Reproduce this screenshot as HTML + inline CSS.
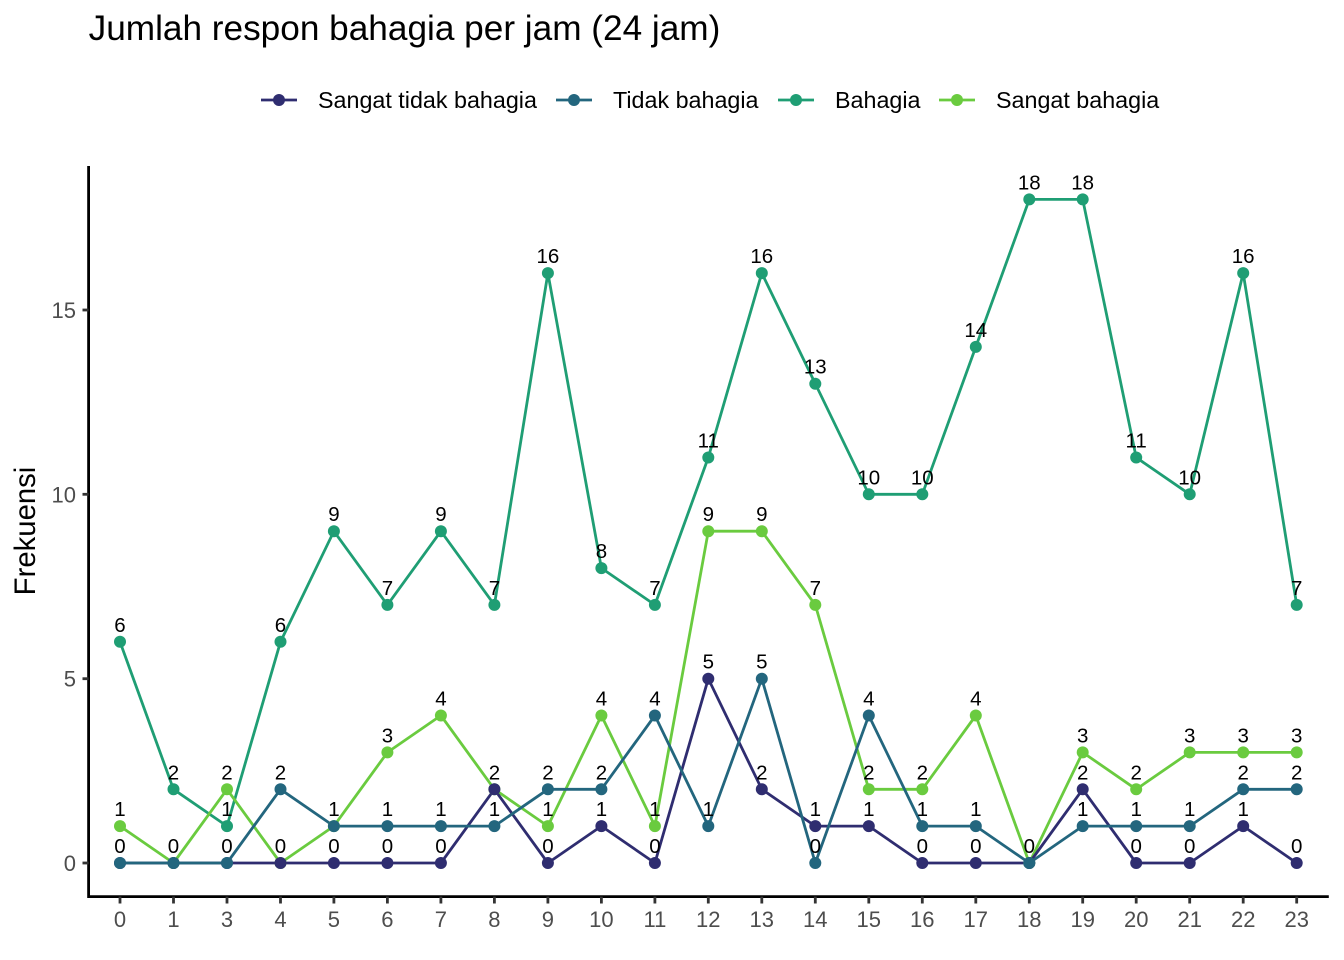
<!DOCTYPE html>
<html>
<head>
<meta charset="utf-8">
<style>
  html, body { margin: 0; padding: 0; background: #ffffff; }
  svg { display: block; }
  text { font-family: "Liberation Sans", Arial, sans-serif; }
</style>
</head>
<body>
<svg width="1344" height="960" viewBox="0 0 1344 960" xmlns="http://www.w3.org/2000/svg">
  <rect x="0" y="0" width="1344" height="960" fill="#ffffff"/>

  <!-- Title -->
  <text x="88.6" y="40" font-size="35.2" fill="#000000">Jumlah respon bahagia per jam (24 jam)</text>

  <!-- Legend -->
  <g stroke-width="2.8">
    <line x1="261" y1="100" x2="297" y2="100" stroke="#2f2d70"/>
    <circle cx="279" cy="100" r="6" fill="#2f2d70" stroke="none"/>
    <line x1="556" y1="100" x2="592" y2="100" stroke="#23667e"/>
    <circle cx="574" cy="100" r="6" fill="#23667e" stroke="none"/>
    <line x1="778" y1="100" x2="814" y2="100" stroke="#1f9e74"/>
    <circle cx="796" cy="100" r="6" fill="#1f9e74" stroke="none"/>
    <line x1="939" y1="100" x2="975" y2="100" stroke="#6acb3f"/>
    <circle cx="957" cy="100" r="6" fill="#6acb3f" stroke="none"/>
  </g>
  <g font-size="23.3" fill="#000000">
    <text x="318" y="108">Sangat tidak bahagia</text>
    <text x="613" y="108">Tidak bahagia</text>
    <text x="835" y="108">Bahagia</text>
    <text x="996" y="108">Sangat bahagia</text>
  </g>

  <!-- Y axis title -->
  <text transform="translate(35,531) rotate(-90)" text-anchor="middle" font-size="29.3" fill="#000000">Frekuensi</text>

  <!-- Axes -->
  <path d="M88.6,166 V896.6 H1328.8" fill="none" stroke="#000000" stroke-width="2.8"/>

  <!-- Y ticks -->
  <g stroke="#333333" stroke-width="2.8">
    <line x1="82.5" y1="863" x2="88.6" y2="863"/>
    <line x1="82.5" y1="678.7" x2="88.6" y2="678.7"/>
    <line x1="82.5" y1="494.3" x2="88.6" y2="494.3"/>
    <line x1="82.5" y1="310" x2="88.6" y2="310"/>
  </g>
  <g font-size="22" fill="#4d4d4d" text-anchor="end">
    <text x="76" y="871">0</text>
    <text x="76" y="686.7">5</text>
    <text x="76" y="502.3">10</text>
    <text x="76" y="318">15</text>
  </g>

  <!-- X ticks -->
  <g stroke="#333333" stroke-width="2.8">
    <line x1="120" y1="896.6" x2="120" y2="903.5"/>
    <line x1="173.5" y1="896.6" x2="173.5" y2="903.5"/>
    <line x1="227" y1="896.6" x2="227" y2="903.5"/>
    <line x1="280.5" y1="896.6" x2="280.5" y2="903.5"/>
    <line x1="333.9" y1="896.6" x2="333.9" y2="903.5"/>
    <line x1="387.4" y1="896.6" x2="387.4" y2="903.5"/>
    <line x1="440.9" y1="896.6" x2="440.9" y2="903.5"/>
    <line x1="494.4" y1="896.6" x2="494.4" y2="903.5"/>
    <line x1="547.9" y1="896.6" x2="547.9" y2="903.5"/>
    <line x1="601.4" y1="896.6" x2="601.4" y2="903.5"/>
    <line x1="654.9" y1="896.6" x2="654.9" y2="903.5"/>
    <line x1="708.3" y1="896.6" x2="708.3" y2="903.5"/>
    <line x1="761.8" y1="896.6" x2="761.8" y2="903.5"/>
    <line x1="815.3" y1="896.6" x2="815.3" y2="903.5"/>
    <line x1="868.8" y1="896.6" x2="868.8" y2="903.5"/>
    <line x1="922.3" y1="896.6" x2="922.3" y2="903.5"/>
    <line x1="975.8" y1="896.6" x2="975.8" y2="903.5"/>
    <line x1="1029.3" y1="896.6" x2="1029.3" y2="903.5"/>
    <line x1="1082.7" y1="896.6" x2="1082.7" y2="903.5"/>
    <line x1="1136.2" y1="896.6" x2="1136.2" y2="903.5"/>
    <line x1="1189.7" y1="896.6" x2="1189.7" y2="903.5"/>
    <line x1="1243.2" y1="896.6" x2="1243.2" y2="903.5"/>
    <line x1="1296.7" y1="896.6" x2="1296.7" y2="903.5"/>
  </g>
  <g font-size="22" fill="#4d4d4d" text-anchor="middle">
    <text x="120" y="927">0</text>
    <text x="173.5" y="927">1</text>
    <text x="227" y="927">3</text>
    <text x="280.5" y="927">4</text>
    <text x="333.9" y="927">5</text>
    <text x="387.4" y="927">6</text>
    <text x="440.9" y="927">7</text>
    <text x="494.4" y="927">8</text>
    <text x="547.9" y="927">9</text>
    <text x="601.4" y="927">10</text>
    <text x="654.9" y="927">11</text>
    <text x="708.3" y="927">12</text>
    <text x="761.8" y="927">13</text>
    <text x="815.3" y="927">14</text>
    <text x="868.8" y="927">15</text>
    <text x="922.3" y="927">16</text>
    <text x="975.8" y="927">17</text>
    <text x="1029.3" y="927">18</text>
    <text x="1082.7" y="927">19</text>
    <text x="1136.2" y="927">20</text>
    <text x="1189.7" y="927">21</text>
    <text x="1243.2" y="927">22</text>
    <text x="1296.7" y="927">23</text>
  </g>

  <!-- Lines (alphabetical draw order: Bahagia, Sangat bahagia, Sangat tidak bahagia, Tidak bahagia) -->
  <g fill="none" stroke-width="2.8" stroke-linejoin="round">
    <polyline stroke="#1f9e74" points="120,641.8 173.5,789.3 227,826.1 280.5,641.8 333.9,531.2 387.4,604.9 440.9,531.2 494.4,604.9 547.9,273.1 601.4,568.1 654.9,604.9 708.3,457.5 761.8,273.1 815.3,383.7 868.8,494.3 922.3,494.3 975.8,346.9 1029.3,199.4 1082.7,199.4 1136.2,457.5 1189.7,494.3 1243.2,273.1 1296.7,604.9"/>
    <polyline stroke="#6acb3f" points="120,826.1 173.5,863 227,789.3 280.5,863 333.9,826.1 387.4,752.4 440.9,715.5 494.4,789.3 547.9,826.1 601.4,715.5 654.9,826.1 708.3,531.2 761.8,531.2 815.3,604.9 868.8,789.3 922.3,789.3 975.8,715.5 1029.3,863 1082.7,752.4 1136.2,789.3 1189.7,752.4 1243.2,752.4 1296.7,752.4"/>
    <polyline stroke="#2f2d70" points="120,863 173.5,863 227,863 280.5,863 333.9,863 387.4,863 440.9,863 494.4,789.3 547.9,863 601.4,826.1 654.9,863 708.3,678.7 761.8,789.3 815.3,826.1 868.8,826.1 922.3,863 975.8,863 1029.3,863 1082.7,789.3 1136.2,863 1189.7,863 1243.2,826.1 1296.7,863"/>
    <polyline stroke="#23667e" points="120,863 173.5,863 227,863 280.5,789.3 333.9,826.1 387.4,826.1 440.9,826.1 494.4,826.1 547.9,789.3 601.4,789.3 654.9,715.5 708.3,826.1 761.8,678.7 815.3,863 868.8,715.5 922.3,826.1 975.8,826.1 1029.3,863 1082.7,826.1 1136.2,826.1 1189.7,826.1 1243.2,789.3 1296.7,789.3"/>
  </g>

  <!-- Points: Bahagia -->
  <g fill="#1f9e74">
    <circle cx="120" cy="641.8" r="6"/><circle cx="173.5" cy="789.3" r="6"/><circle cx="227" cy="826.1" r="6"/><circle cx="280.5" cy="641.8" r="6"/>
    <circle cx="333.9" cy="531.2" r="6"/><circle cx="387.4" cy="604.9" r="6"/><circle cx="440.9" cy="531.2" r="6"/><circle cx="494.4" cy="604.9" r="6"/>
    <circle cx="547.9" cy="273.1" r="6"/><circle cx="601.4" cy="568.1" r="6"/><circle cx="654.9" cy="604.9" r="6"/><circle cx="708.3" cy="457.5" r="6"/>
    <circle cx="761.8" cy="273.1" r="6"/><circle cx="815.3" cy="383.7" r="6"/><circle cx="868.8" cy="494.3" r="6"/><circle cx="922.3" cy="494.3" r="6"/>
    <circle cx="975.8" cy="346.9" r="6"/><circle cx="1029.3" cy="199.4" r="6"/><circle cx="1082.7" cy="199.4" r="6"/><circle cx="1136.2" cy="457.5" r="6"/>
    <circle cx="1189.7" cy="494.3" r="6"/><circle cx="1243.2" cy="273.1" r="6"/><circle cx="1296.7" cy="604.9" r="6"/>
  </g>
  <!-- Points: Sangat bahagia -->
  <g fill="#6acb3f">
    <circle cx="120" cy="826.1" r="6"/><circle cx="173.5" cy="863" r="6"/><circle cx="227" cy="789.3" r="6"/><circle cx="280.5" cy="863" r="6"/>
    <circle cx="333.9" cy="826.1" r="6"/><circle cx="387.4" cy="752.4" r="6"/><circle cx="440.9" cy="715.5" r="6"/><circle cx="494.4" cy="789.3" r="6"/>
    <circle cx="547.9" cy="826.1" r="6"/><circle cx="601.4" cy="715.5" r="6"/><circle cx="654.9" cy="826.1" r="6"/><circle cx="708.3" cy="531.2" r="6"/>
    <circle cx="761.8" cy="531.2" r="6"/><circle cx="815.3" cy="604.9" r="6"/><circle cx="868.8" cy="789.3" r="6"/><circle cx="922.3" cy="789.3" r="6"/>
    <circle cx="975.8" cy="715.5" r="6"/><circle cx="1029.3" cy="863" r="6"/><circle cx="1082.7" cy="752.4" r="6"/><circle cx="1136.2" cy="789.3" r="6"/>
    <circle cx="1189.7" cy="752.4" r="6"/><circle cx="1243.2" cy="752.4" r="6"/><circle cx="1296.7" cy="752.4" r="6"/>
  </g>
  <!-- Points: Sangat tidak bahagia -->
  <g fill="#2f2d70">
    <circle cx="120" cy="863" r="6"/><circle cx="173.5" cy="863" r="6"/><circle cx="227" cy="863" r="6"/><circle cx="280.5" cy="863" r="6"/>
    <circle cx="333.9" cy="863" r="6"/><circle cx="387.4" cy="863" r="6"/><circle cx="440.9" cy="863" r="6"/><circle cx="494.4" cy="789.3" r="6"/>
    <circle cx="547.9" cy="863" r="6"/><circle cx="601.4" cy="826.1" r="6"/><circle cx="654.9" cy="863" r="6"/><circle cx="708.3" cy="678.7" r="6"/>
    <circle cx="761.8" cy="789.3" r="6"/><circle cx="815.3" cy="826.1" r="6"/><circle cx="868.8" cy="826.1" r="6"/><circle cx="922.3" cy="863" r="6"/>
    <circle cx="975.8" cy="863" r="6"/><circle cx="1029.3" cy="863" r="6"/><circle cx="1082.7" cy="789.3" r="6"/><circle cx="1136.2" cy="863" r="6"/>
    <circle cx="1189.7" cy="863" r="6"/><circle cx="1243.2" cy="826.1" r="6"/><circle cx="1296.7" cy="863" r="6"/>
  </g>
  <!-- Points: Tidak bahagia -->
  <g fill="#23667e">
    <circle cx="120" cy="863" r="6"/><circle cx="173.5" cy="863" r="6"/><circle cx="227" cy="863" r="6"/><circle cx="280.5" cy="789.3" r="6"/>
    <circle cx="333.9" cy="826.1" r="6"/><circle cx="387.4" cy="826.1" r="6"/><circle cx="440.9" cy="826.1" r="6"/><circle cx="494.4" cy="826.1" r="6"/>
    <circle cx="547.9" cy="789.3" r="6"/><circle cx="601.4" cy="789.3" r="6"/><circle cx="654.9" cy="715.5" r="6"/><circle cx="708.3" cy="826.1" r="6"/>
    <circle cx="761.8" cy="678.7" r="6"/><circle cx="815.3" cy="863" r="6"/><circle cx="868.8" cy="715.5" r="6"/><circle cx="922.3" cy="826.1" r="6"/>
    <circle cx="975.8" cy="826.1" r="6"/><circle cx="1029.3" cy="863" r="6"/><circle cx="1082.7" cy="826.1" r="6"/><circle cx="1136.2" cy="826.1" r="6"/>
    <circle cx="1189.7" cy="826.1" r="6"/><circle cx="1243.2" cy="789.3" r="6"/><circle cx="1296.7" cy="789.3" r="6"/>
  </g>

  <!-- Data labels -->
  <g font-size="20.5" fill="#000000" text-anchor="middle">
    <!-- 0 -->
    <text x="120" y="631.8">6</text><text x="120" y="816.1">1</text><text x="120" y="853">0</text>
    <!-- 1 -->
    <text x="173.5" y="779.3">2</text><text x="173.5" y="853">0</text>
    <!-- 3 -->
    <text x="227" y="816.1">1</text><text x="227" y="779.3">2</text><text x="227" y="853">0</text>
    <!-- 4 -->
    <text x="280.5" y="631.8">6</text><text x="280.5" y="853">0</text><text x="280.5" y="779.3">2</text>
    <!-- 5 -->
    <text x="333.9" y="521.2">9</text><text x="333.9" y="816.1">1</text><text x="333.9" y="853">0</text>
    <!-- 6 -->
    <text x="387.4" y="594.9">7</text><text x="387.4" y="742.4">3</text><text x="387.4" y="853">0</text><text x="387.4" y="816.1">1</text>
    <!-- 7 -->
    <text x="440.9" y="521.2">9</text><text x="440.9" y="705.5">4</text><text x="440.9" y="853">0</text><text x="440.9" y="816.1">1</text>
    <!-- 8 -->
    <text x="494.4" y="594.9">7</text><text x="494.4" y="779.3">2</text><text x="494.4" y="816.1">1</text>
    <!-- 9 -->
    <text x="547.9" y="263.1">16</text><text x="547.9" y="816.1">1</text><text x="547.9" y="853">0</text><text x="547.9" y="779.3">2</text>
    <!-- 10 -->
    <text x="601.4" y="558.1">8</text><text x="601.4" y="705.5">4</text><text x="601.4" y="816.1">1</text><text x="601.4" y="779.3">2</text>
    <!-- 11 -->
    <text x="654.9" y="594.9">7</text><text x="654.9" y="816.1">1</text><text x="654.9" y="853">0</text><text x="654.9" y="705.5">4</text>
    <!-- 12 -->
    <text x="708.3" y="447.5">11</text><text x="708.3" y="521.2">9</text><text x="708.3" y="668.7">5</text><text x="708.3" y="816.1">1</text>
    <!-- 13 -->
    <text x="761.8" y="263.1">16</text><text x="761.8" y="521.2">9</text><text x="761.8" y="779.3">2</text><text x="761.8" y="668.7">5</text>
    <!-- 14 -->
    <text x="815.3" y="373.7">13</text><text x="815.3" y="594.9">7</text><text x="815.3" y="816.1">1</text><text x="815.3" y="853">0</text>
    <!-- 15 -->
    <text x="868.8" y="484.3">10</text><text x="868.8" y="779.3">2</text><text x="868.8" y="816.1">1</text><text x="868.8" y="705.5">4</text>
    <!-- 16 -->
    <text x="922.3" y="484.3">10</text><text x="922.3" y="779.3">2</text><text x="922.3" y="853">0</text><text x="922.3" y="816.1">1</text>
    <!-- 17 -->
    <text x="975.8" y="336.9">14</text><text x="975.8" y="705.5">4</text><text x="975.8" y="853">0</text><text x="975.8" y="816.1">1</text>
    <!-- 18 -->
    <text x="1029.3" y="189.4">18</text><text x="1029.3" y="853">0</text>
    <!-- 19 -->
    <text x="1082.7" y="189.4">18</text><text x="1082.7" y="742.4">3</text><text x="1082.7" y="779.3">2</text><text x="1082.7" y="816.1">1</text>
    <!-- 20 -->
    <text x="1136.2" y="447.5">11</text><text x="1136.2" y="779.3">2</text><text x="1136.2" y="853">0</text><text x="1136.2" y="816.1">1</text>
    <!-- 21 -->
    <text x="1189.7" y="484.3">10</text><text x="1189.7" y="742.4">3</text><text x="1189.7" y="853">0</text><text x="1189.7" y="816.1">1</text>
    <!-- 22 -->
    <text x="1243.2" y="263.1">16</text><text x="1243.2" y="742.4">3</text><text x="1243.2" y="816.1">1</text><text x="1243.2" y="779.3">2</text>
    <!-- 23 -->
    <text x="1296.7" y="594.9">7</text><text x="1296.7" y="742.4">3</text><text x="1296.7" y="853">0</text><text x="1296.7" y="779.3">2</text>
  </g>
</svg>
</body>
</html>
